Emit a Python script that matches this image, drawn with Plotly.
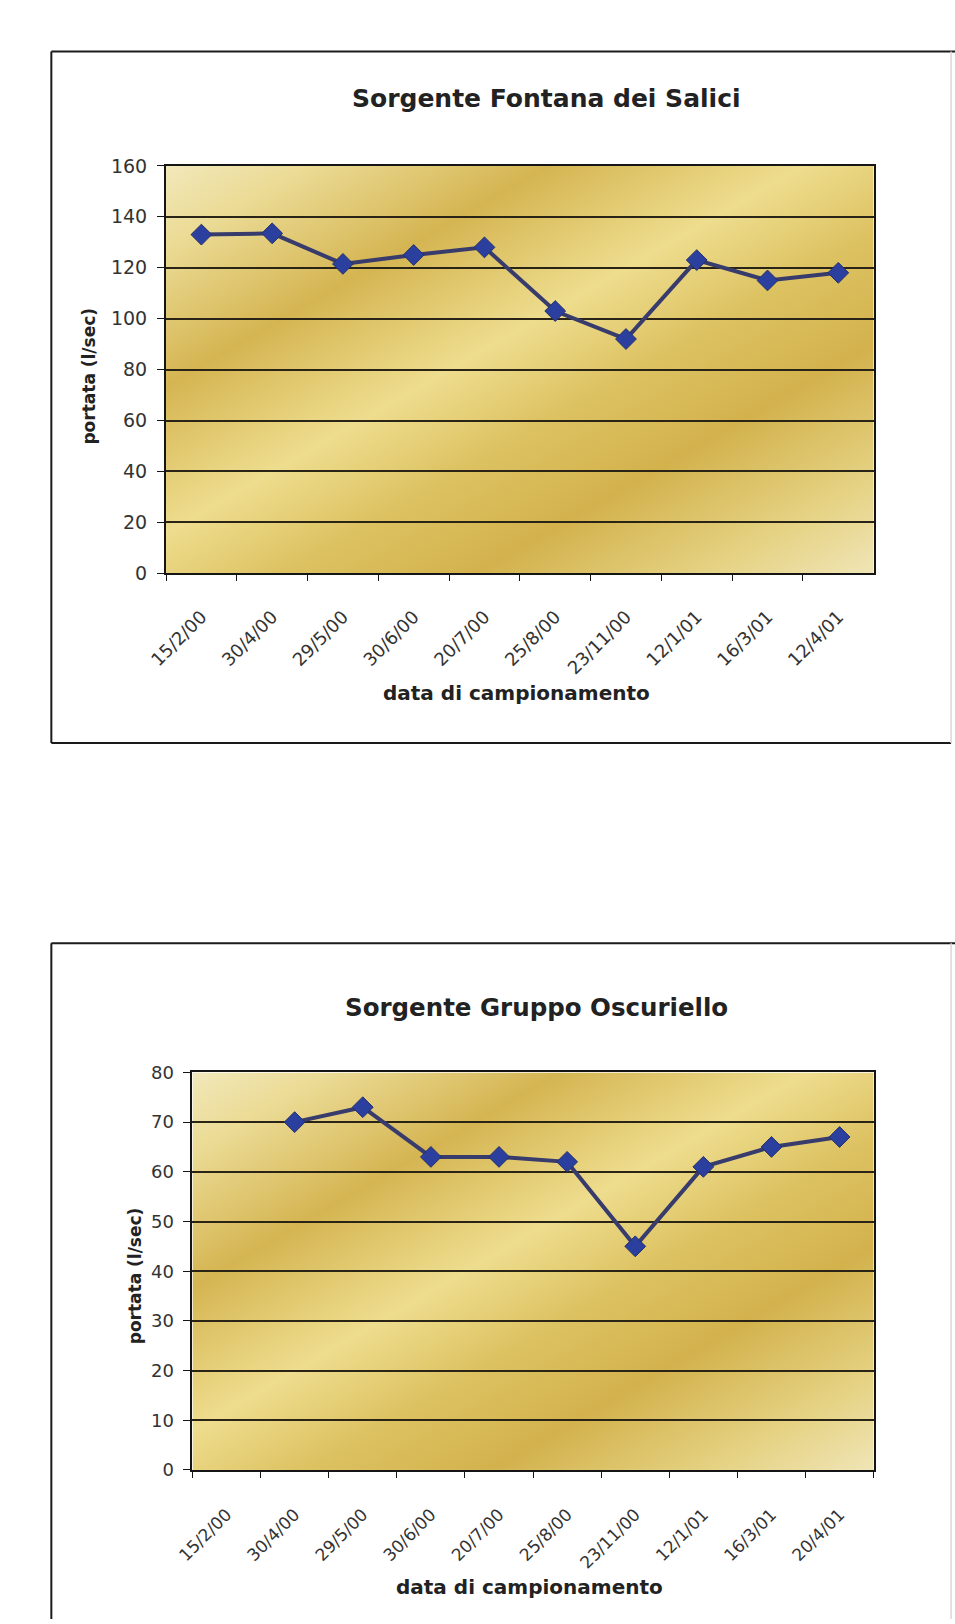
import base64
import plotly.graph_objects as go

W, H = 955, 1624

# ---- data -------------------------------------------------------------
dates_fontana = ["15/2/00", "30/4/00", "29/5/00", "30/6/00", "20/7/00",
                 "25/8/00", "23/11/00", "12/1/01", "16/3/01", "12/4/01"]
portata_fontana = [133, 133.5, 121.5, 125, 128, 103, 92, 123, 115, 118]

dates_oscuriello = ["15/2/00", "30/4/00", "29/5/00", "30/6/00", "20/7/00",
                    "25/8/00", "23/11/00", "12/1/01", "16/3/01", "20/4/01"]
portata_oscuriello = [None, 70, 73, 63, 63, 62, 45, 61, 65, 67]

title_fontana = "Sorgente Fontana dei Salici"
title_oscuriello = "Sorgente Gruppo Oscuriello"
x_title = "data di campionamento"
y_title = "portata (l/sec)"

FONT = "DejaVu Sans"


def fx(px):
    return px / W


def fy(py):
    return 1 - py / H


# gold diagonal gradient used as plot-area fill
gold_svg = (
    '<svg xmlns="http://www.w3.org/2000/svg" width="200" height="100" '
    'viewBox="0 0 200 100" preserveAspectRatio="none">'
    '<defs><linearGradient id="g" x1="0" y1="0" x2="1" y2="1">'
    '<stop offset="0" stop-color="#F2E8BA"/>'
    '<stop offset="0.10" stop-color="#EBDB95"/>'
    '<stop offset="0.27" stop-color="#D5B552"/>'
    '<stop offset="0.45" stop-color="#EEDD8E"/>'
    '<stop offset="0.58" stop-color="#DDC262"/>'
    '<stop offset="0.72" stop-color="#D3B24D"/>'
    '<stop offset="0.88" stop-color="#E5D283"/>'
    '<stop offset="1" stop-color="#F0E5B6"/>'
    '</linearGradient></defs>'
    '<rect width="200" height="100" fill="url(#g)"/></svg>'
)
gold_src = "data:image/svg+xml;base64," + base64.b64encode(gold_svg.encode()).decode()

line_style = dict(color="#383C6C", width=4)
marker_style = dict(symbol="diamond", size=16, color="#2B3F9E",
                    line=dict(color="#26306A", width=1))

fig = go.Figure()
fig.add_trace(go.Scatter(x=dates_fontana, y=portata_fontana, xaxis="x", yaxis="y",
                         mode="lines+markers", line=line_style, marker=marker_style,
                         showlegend=False, hoverinfo="x+y"))
fig.add_trace(go.Scatter(x=dates_oscuriello, y=portata_oscuriello, xaxis="x2", yaxis="y2",
                         mode="lines+markers", line=line_style, marker=marker_style,
                         showlegend=False, hoverinfo="x+y", connectgaps=False))


def xaxis_style(domain, anchor, size, standoff):
    return dict(domain=domain, anchor=anchor, type="category", range=[-0.5, 9.5],
                showgrid=False, showline=True, linecolor="#151515", linewidth=2,
                mirror=True, ticks="outside", tickson="boundaries", ticklen=6,
                tickcolor="#151515", tickwidth=1.2, tickangle=-45,
                ticklabelstandoff=standoff,
                tickfont=dict(family=FONT, size=size, color="#333333"),
                fixedrange=True)


def yaxis_style(domain, anchor, top, step, size):
    return dict(domain=domain, anchor=anchor, range=[0, top], dtick=step, tick0=0,
                showgrid=True, gridcolor="#2A2416", gridwidth=2, zeroline=False,
                showline=True, linecolor="#151515", linewidth=2, mirror=True,
                ticks="outside", ticklen=7, tickcolor="#151515", tickwidth=1.2,
                ticklabelstandoff=6,
                tickfont=dict(family=FONT, size=size, color="#333333"),
                fixedrange=True)


fig.update_layout(
    width=W, height=H, autosize=False,
    margin=dict(l=0, r=0, t=0, b=0),
    paper_bgcolor="white", plot_bgcolor="rgba(0,0,0,0)",
    xaxis=xaxis_style([fx(150), fx(872)], "y", 18, 24),
    yaxis=yaxis_style([fy(570), fy(157)], "x", 160, 20, 19),
    xaxis2=xaxis_style([fx(177), fx(872)], "y2", 17, 26),
    yaxis2=yaxis_style([fy(1479), fy(1076)], "x2", 80, 10, 18),
)

for xr, yr in (("x domain", "y domain"), ("x2 domain", "y2 domain")):
    fig.add_layout_image(dict(source=gold_src, xref=xr, yref=yr, x=0, y=1,
                              sizex=1, sizey=1, xanchor="left", yanchor="top",
                              sizing="stretch", layer="below"))

# chart frames
dark = dict(color="#1A1A1A", width=2)
faint = dict(color="#D8D8D8", width=1.5)
frames = [
    (33, 41, 955, 41, dark), (33, 41, 33, 742, dark), (33, 742, 951, 742, dark),
    (951, 41, 951, 742, faint),
    (33, 945, 955, 945, dark), (33, 945, 33, 1630, dark), (951, 945, 951, 1630, faint),
]
for x0, y0, x1, y1, ln in frames:
    fig.add_shape(type="line", xref="paper", yref="paper",
                  x0=fx(x0), y0=fy(y0), x1=fx(x1), y1=fy(y1), line=ln)

# titles and axis titles
texts = [
    (title_fontana, 538, 89, 25, 0),
    (title_oscuriello, 528, 1010, 24.5, 0),
    (x_title, 508, 691, 20, 0),
    (x_title, 521, 1598, 20, 0),
    (y_title, 71, 370, 17, -90),
    (y_title, 118, 1282, 17, -90),
]
for txt, x, y, size, ang in texts:
    fig.add_annotation(text="<b>%s</b>" % txt, xref="paper", yref="paper",
                       x=fx(x), y=fy(y), xanchor="center", yanchor="middle",
                       showarrow=False, textangle=ang,
                       font=dict(family=FONT, size=size, color="#222222"))

fig.write_html("out.html")
